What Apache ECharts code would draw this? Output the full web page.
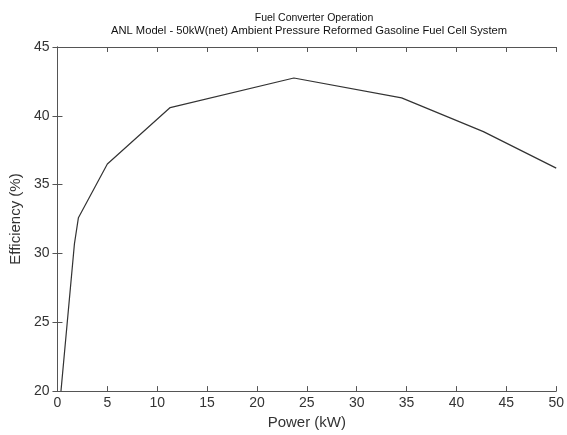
<!DOCTYPE html>
<html>
<head>
<meta charset="utf-8">
<title>Fuel Converter Operation</title>
<script src="https://cdn.jsdelivr.net/npm/echarts@6/dist/echarts.min.js"></script>
<style>
  html, body { margin: 0; padding: 0; background: #fff; }
  #main { width: 567px; height: 435px; }
</style>
</head>
<body>
<div id="main"></div>
<script>
// power (kW) and efficiency (%)
const power = [0.35, 1.7, 2.1, 5, 11.3, 23.7, 34.5, 42.7, 50]
const efficiency = [20, 30.7, 32.6, 36.5, 40.6, 42.75, 41.3, 38.85, 36.2]

const titleText = 'Fuel Converter Operation'
const subText = 'ANL Model - 50kW(net) Ambient Pressure Reformed Gasoline Fuel Cell System'

const font = 'Liberation Sans, Arial, sans-serif'
const ink = '#333'

const myChart = echarts.init(document.getElementById('main'))

// MATLAB style box: ticks inside, mirrored on top and right
const boxAxis = {
  axisLine: { show: true, lineStyle: { color: '#555', width: 1 } },
  axisTick: { show: true, inside: true, length: 5, lineStyle: { color: '#555' } },
  splitLine: { show: false }
}

const option = {
  animation: false,
  title: [
    {
      text: titleText,
      left: 309,
      top: 8,
      textAlign: 'center',
      textStyle: { fontFamily: font, fontSize: 10.5, fontWeight: 'normal', color: '#111' }
    },
    {
      text: subText,
      left: 304,
      top: 20,
      textAlign: 'center',
      textStyle: { fontFamily: font, fontSize: 11.2, fontWeight: 'normal', color: '#111' }
    }
  ],
  grid: { left: 56, right: 7, top: 47, bottom: 43 },
  xAxis: [
    {
      ...boxAxis,
      type: 'value',
      min: 0,
      max: 50,
      interval: 5,
      name: 'Power (kW)',
      nameLocation: 'middle',
      nameGap: 23,
      nameTextStyle: { fontFamily: font, fontSize: 15, color: ink },
      axisLabel: { fontFamily: font, fontSize: 14, color: ink, margin: 5 }
    },
    {
      ...boxAxis,
      type: 'value',
      position: 'top',
      min: 0,
      max: 50,
      interval: 5,
      axisLabel: { show: false }
    }
  ],
  yAxis: [
    {
      ...boxAxis,
      type: 'value',
      min: 20,
      max: 45,
      interval: 5,
      name: 'Efficiency (%)',
      nameLocation: 'middle',
      nameGap: 31,
      nameTextStyle: { fontFamily: font, fontSize: 15, color: ink },
      axisLabel: { fontFamily: font, fontSize: 14, color: ink, margin: 8 }
    },
    {
      ...boxAxis,
      type: 'value',
      position: 'right',
      min: 20,
      max: 45,
      interval: 5,
      axisLabel: { show: false }
    }
  ],
  series: [
    {
      type: 'line',
      data: power.map((p, i) => [p, efficiency[i]]),
      showSymbol: false,
      lineStyle: { color: '#333', width: 1.2 },
      clip: true
    }
  ]
}

myChart.setOption(option)
</script>
</body>
</html>
